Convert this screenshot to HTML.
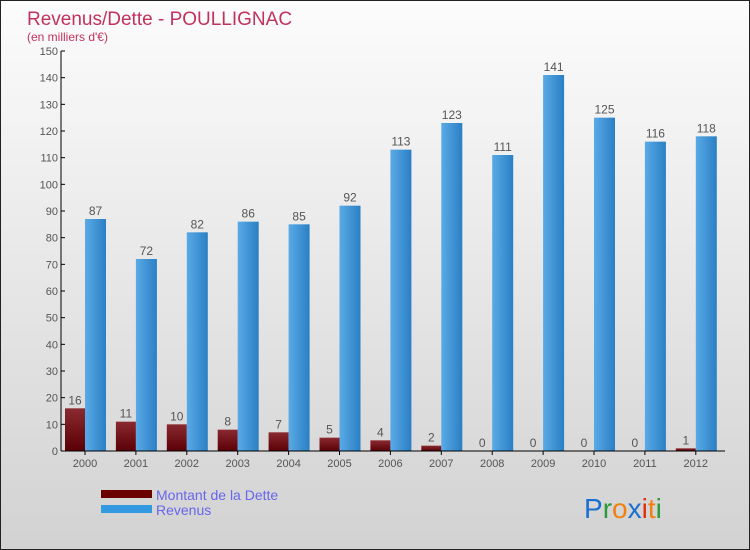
<!DOCTYPE html>
<html><head><meta charset="utf-8"><style>
body{margin:0}
#c{width:750px;height:550px;position:relative;overflow:hidden;box-sizing:border-box;border:1px solid #222;background:linear-gradient(#fcfcfc,#d2d2d2);font-family:"Liberation Sans",sans-serif}
</style></head><body>
<div id="c">
<svg id="s" width="750" height="550" style="position:absolute;left:0;top:0">
<defs>
<linearGradient id="gd" x1="0" y1="0" x2="0" y2="1"><stop offset="0" stop-color="#8a2a30"/><stop offset="1" stop-color="#5a0006"/></linearGradient>
<linearGradient id="gr" x1="0" y1="0" x2="1" y2="0"><stop offset="0" stop-color="#5aaae6"/><stop offset="1" stop-color="#2a7fc4"/></linearGradient>
</defs>
<text x="26" y="24" font-size="19" fill="#c2325e">Revenus/Dette - POULLIGNAC</text>
<text x="26" y="40" font-size="12" fill="#c2325e">(en milliers d'€)</text>
<g id="g"></g>
<rect x="100" y="489" width="51" height="8" fill="#6a0000"/>
<rect x="100" y="504" width="51" height="8" fill="#3399e0"/>
<text x="155" y="499" font-size="14" fill="#6666ee">Montant de la Dette</text>
<text x="155" y="514" font-size="14" fill="#6666ee">Revenus</text>
<text x="583" y="517" font-size="28"><tspan fill="#1a6fd0">P</tspan><tspan fill="#2a9a3a">r</tspan><tspan fill="#f08010">o</tspan><tspan fill="#1a6fd0">x</tspan><tspan fill="#e03010">i</tspan><tspan fill="#f08010">t</tspan><tspan fill="#2a9a3a">i</tspan></text>
</svg>
</div>
<script>
const years=["2000","2001","2002","2003","2004","2005","2006","2007","2008","2009","2010","2011","2012"];
const dette=[16,11,10,8,7,5,4,2,0,0,0,0,1];
const revenus=[87,72,82,86,85,92,113,123,111,141,125,116,118];
const ticks=[0,10,20,30,40,50,60,70,80,90,100,110,120,130,140,150];
const NS="http://www.w3.org/2000/svg";
const g=document.getElementById('g');
const y0=450,ymax=150,ph=400,x0=60,step=50.9;
const Y=v=>y0-v/ymax*ph;
const X=i=>x0+i*step;
function mk(t,a,txt){const e=document.createElementNS(NS,t);for(const k in a)e.setAttribute(k,a[k]);if(txt!==undefined)e.textContent=txt;g.appendChild(e);return e;}
ticks.forEach(t=>{
 const l=mk('line',{x1:x0,x2:x0+4,y1:Y(t),y2:Y(t),stroke:'#000'});
 
 
 const tx=mk('text',{x:x0-3,y:Y(t)+4,'font-size':11,fill:'#555','text-anchor':'end'},t);
 
 
});
years.forEach((yr,i)=>{
 const bx=X(i)+4;
 const d=mk('rect',{x:bx,y:Y(dette[i]),width:20,height:dette[i]/ymax*ph,fill:'url(#gd)'});
 
 
 const r=mk('rect',{x:bx+20,y:Y(revenus[i]),width:21,height:revenus[i]/ymax*ph,fill:'url(#gr)'});
 
 
 const dl=mk('text',{x:bx+10,y:Y(dette[i])-4,'font-size':12,fill:'#555','text-anchor':'middle'},dette[i]);
 
 
 const rl=mk('text',{x:bx+30.5,y:Y(revenus[i])-4,'font-size':12,fill:'#555','text-anchor':'middle'},revenus[i]);
 
 
 const xl=mk('text',{x:bx+20,y:466,'font-size':11,fill:'#555','text-anchor':'middle'},yr);
 
 
 const xt=mk('line',{x1:bx+20,x2:bx+20,y1:y0,y2:y0+4,stroke:'#000'});
 
 
});
const ya=mk('line',{x1:x0,x2:x0,y1:Y(150),y2:y0,stroke:'#000'});


const xa=mk('line',{x1:x0,x2:724,y1:y0,y2:y0,stroke:'#000'});


</script>
</body></html>
